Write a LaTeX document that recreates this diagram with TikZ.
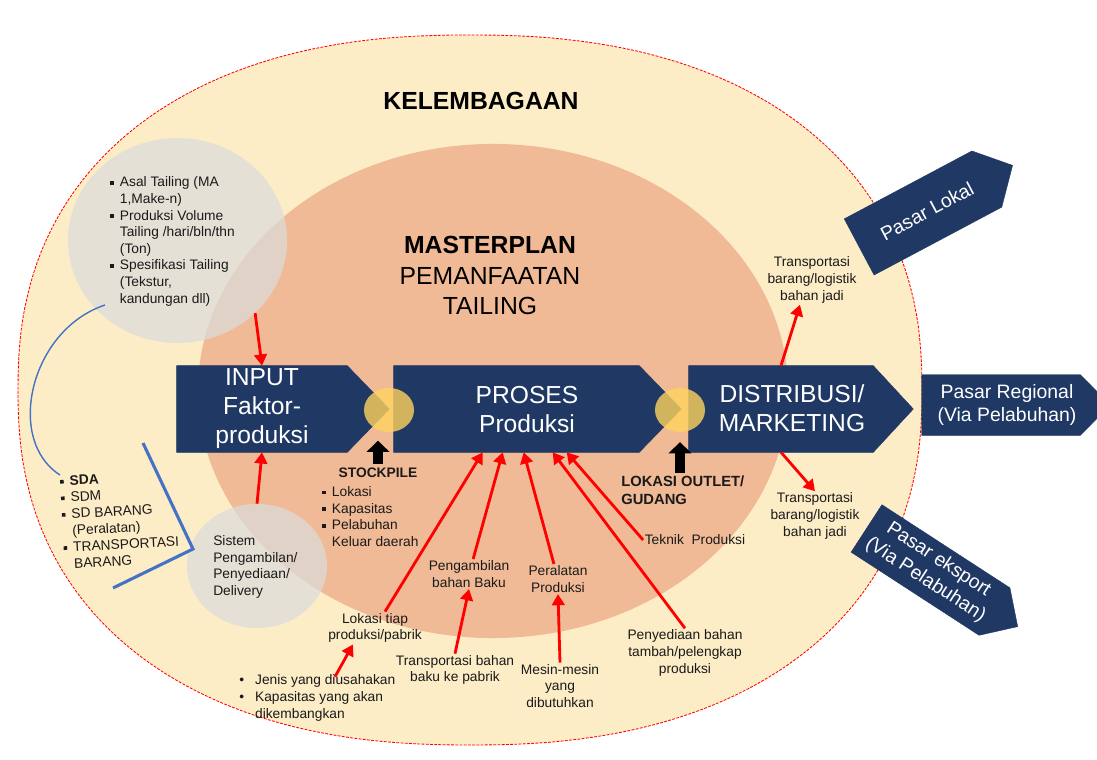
\documentclass[tikz,border=0pt]{standalone}
\usepackage{fontspec}
\setmainfont{Liberation Sans}
\usepackage{tikz}
\usetikzlibrary{shapes.geometric, arrows.meta, positioning, calc}
\definecolor{navy}{HTML}{203864}
\definecolor{sand}{HTML}{FDEDC7}
\definecolor{salmon}{HTML}{F1BA96}
\definecolor{mist}{HTML}{DCDCDC}
\definecolor{gold}{HTML}{FFD45E}
\definecolor{linkblue}{HTML}{4472C4}
\definecolor{textdark}{HTML}{1A1A1A}
\newcommand{\sqb}{\makebox[0.7em][l]{\rule[0.3ex]{0.26em}{0.26em}}}
\newcommand{\hang}{\hspace*{0.7em}}
\newcommand{\dotb}{\makebox[1.15em][l]{\textbullet}}
\tikzstyle{ring} = [ellipse, inner sep=0pt]
\tikzstyle{bubble} = [ellipse, inner sep=0pt, fill=mist, fill opacity=0.72]
\tikzstyle{chevbody} = [rectangle, inner sep=0pt, minimum height=2.15cm]
\tikzstyle{market} = [rectangle, inner sep=0pt]
\tikzstyle{chevfill} = [fill=navy, draw=navy, line width=0.3pt, line join=round]
\tikzstyle{joint} = [ellipse, inner sep=0pt, fill=gold, fill opacity=0.8, minimum width=1.25cm, minimum height=1.1cm]
\tikzstyle{bigtext} = [text=white, align=center, font=\fontsize{17.5}{20.6}\selectfont]
\tikzstyle{markettext} = [text=white, align=center, inner sep=0pt, font=\fontsize{13.8}{17}\selectfont]
\tikzstyle{title} = [text=black, align=center, font=\fontsize{17.6}{21.5}\selectfont]
\tikzstyle{note} = [text=textdark, align=center, inner sep=1pt, font=\fontsize{9.8}{11.8}\selectfont]
\tikzstyle{list} = [note, align=left, inner sep=0pt]
\tikzstyle{redarrow} = [red, line width=2pt, -{Triangle[length=8pt,width=9pt]}]
\tikzstyle{blockarrow} = [black, line width=7pt, -{Triangle[length=8pt,width=16pt]}]

\begin{document}
\begin{tikzpicture}[x=0.025cm, y=-0.025cm]
    \clip (0,0) rectangle (1097,760);
    \fill[white] (0,0) rectangle (1097,760);

    % institutional ring (slightly squarish oval) and masterplan core
    \draw[fill=sand, draw=red, line width=0.6pt, dash pattern=on 2pt off 1pt]
        plot[domain=1:361, samples=200, variable=\t]
        ({470+452*sign(cos(\t))*abs(cos(\t))^0.87}, {390+355*sign(sin(\t))*abs(sin(\t))^0.87}) -- cycle;
    \node[ring, fill=salmon, minimum width=14.75cm, minimum height=12.35cm] (core) at (493,391) {};

    \node[bubble, minimum width=5.475cm, minimum height=5.125cm] (bubbleA) at (177.5,240.5) {};
    \node[bubble, minimum width=3.5cm, minimum height=3.1cm] (bubbleB) at (257,566) {};

    % blue links to the resource list
    \draw[linkblue, line width=1pt] (105,305) .. controls (30,330) and (5,440) .. (60,475);
    \draw[linkblue, line width=2.2pt] (143,443) -- (193,549) -- (113,588);

    % main chain
    \node[chevbody, minimum width=4.25cm] (input) at (262,409) {};
    \node[chevbody, minimum width=6.125cm] (proses) at (516.5,409) {};
    \node[chevbody, minimum width=4.6cm] (distrib) at (781,409) {};
    \fill[chevfill] (input.north west) -- (input.north east) -- ($(input.east)+(42,0)$) -- (input.south east) -- (input.south west) -- cycle;
    \fill[chevfill] (proses.north west) -- (proses.north east) -- ($(proses.east)+(42,0)$) -- (proses.south east) -- (proses.south west) -- cycle;
    \fill[chevfill] (distrib.north west) -- (distrib.north east) -- ($(distrib.east)+(40,0)$) -- (distrib.south east) -- (distrib.south west) -- cycle;

    % markets
    \node[market, minimum width=3.95cm, minimum height=1.5cm] (regional) at (1001,405) {};
    \node[market, minimum width=3.6cm, minimum height=1.575cm, rotate=28] (lokal) at (923,213) {};
    \node[market, minimum width=3.8cm, minimum height=1.4cm, rotate=-33] (eksport) at (930.5,570) {};
    \fill[chevfill] (regional.north west) -- (regional.north east) -- ($(regional.east)+(30,0)$) -- (regional.south east) -- (regional.south west) -- cycle;
    \fill[chevfill] (lokal.north west) -- (lokal.north east) -- ($(lokal.center)!1.403!(lokal.east)$) -- (lokal.south east) -- (lokal.south west) -- cycle;
    \fill[chevfill] (eksport.north west) -- (eksport.north east) -- ($(eksport.center)!1.362!(eksport.east)$) -- (eksport.south east) -- (eksport.south west) -- cycle;
    \node[markettext] (regional-label) at (1007,405) {Pasar Regional\\(Via Pelabuhan)};
    \node[markettext, rotate=28] (lokal-label) at (927,211) {Pasar Lokal};
    \node[markettext, rotate=-33] (eksport-label) at (932,570) {Pasar eksport\\(Via Pelabuhan)};

    \node[joint] (joint1) at (389,410) {};
    \node[joint] (joint2) at (680,410) {};

    \node[bigtext] (input-label) at (262,409) {INPUT\\Faktor-\\produksi};
    \node[bigtext] (proses-label) at (527,409.5) {PROSES\\Produksi};
    \node[bigtext] (distrib-label) at (792,408) {DISTRIBUSI/\\MARKETING};

    \node[title] (kelembagaan) at (481,101) {\textbf{KELEMBAGAAN}};
    \node[title] (masterplan) at (490,275.5) {\textbf{MASTERPLAN}\\PEMANFAATAN\\TAILING};

    % notes around the chain
    \node[list, anchor=west] (asal) at (110,241.5) {\sqb Asal Tailing (MA\\\hang 1,Make-n)\\\sqb Produksi Volume\\\hang Tailing /hari/bln/thn\\\hang (Ton)\\\sqb Spesifikasi Tailing\\\hang (Tekstur,\\\hang kandungan dll)};
    \node[list, anchor=west, rotate=3] (sumber) at (62,522.5) {\sqb\textbf{SDA}\\\sqb SDM\\\sqb SD BARANG\\\hang(Peralatan)\\\sqb TRANSPORTASI\\\hang BARANG};
    \node[list, anchor=west] (sistem) at (213,567) {Sistem\\Pengambilan/\\Penyediaan/\\Delivery};
    \node[note, font=\fontsize{9.8}{11.8}\selectfont\bfseries] (stock) at (378,473) {STOCKPILE};
    \node[list, anchor=west] (stocklist) at (322,516.5) {\sqb Lokasi\\\sqb Kapasitas\\\sqb Pelabuhan\\\hang Keluar daerah};
    \node[list, anchor=west, font=\fontsize{10.5}{12.6}\selectfont\bfseries] (outlet) at (621,490) {LOKASI OUTLET/\\GUDANG};
    \node[note] (teknik) at (695,540) {Teknik\ \ Produksi};
    \node[note] (pengambilan) at (469,574) {Pengambilan\\bahan Baku};
    \node[note] (peralatan) at (558,579) {Peralatan\\Produksi};
    \node[note] (lokasi) at (375,628) {Lokasi tiap\\produksi/pabrik};
    \node[list, anchor=west] (jenis) at (239,698) {\dotb Jenis yang diusahakan\\\dotb Kapasitas yang akan\\\hspace*{1.15em}dikembangkan};
    \node[note] (transbaku) at (455,670) {Transportasi bahan\\baku ke pabrik};
    \node[note] (mesin) at (560,686) {Mesin-mesin\\yang\\dibutuhkan};
    \node[note] (penyediaan) at (685,653) {Penyediaan bahan\\tambah/pelengkap\\produksi};
    \node[note] (transtop) at (812,280) {Transportasi\\barang/logistik\\bahan jadi};
    \node[note] (transbot) at (815,516) {Transportasi\\barang/logistik\\bahan jadi};

    % flows
    \draw[redarrow] (bubbleA.south east) -- (input.north);
    \draw[redarrow] (bubbleB.north) -- (input.south);
    \draw[redarrow] (lokasi) -- ($(proses.south west)+(89,0)$);
    \draw[redarrow] (pengambilan) -- ($(proses.south west)+(109,0)$);
    \draw[redarrow] (peralatan) -- ($(proses.south west)+(130,0)$);
    \draw[redarrow] (penyediaan.north) -- ($(proses.south west)+(159,0)$);
    \draw[redarrow] (teknik.west) -- ($(proses.south west)+(173,0)$);
    \draw[redarrow] ($(jenis.north west)+(96,2)$) -- ($(lokasi.south)+(-22,0)$);
    \draw[redarrow] (transbaku.north) -- (pengambilan.south);
    \draw[redarrow] (mesin.north) -- (peralatan.south);
    \draw[redarrow] (distrib.north) -- ($(transtop.south)+(-12,0)$);
    \draw[redarrow] (distrib.south) -- (transbot.north);

    \draw[blockarrow, shorten <=2pt, shorten >=6pt] (stock.north) -- (stock.north |- joint1.south);
    \draw[blockarrow, shorten <=2pt, shorten >=7pt] (outlet.north -| joint2) -- (joint2.south);
\end{tikzpicture}
\end{document}
